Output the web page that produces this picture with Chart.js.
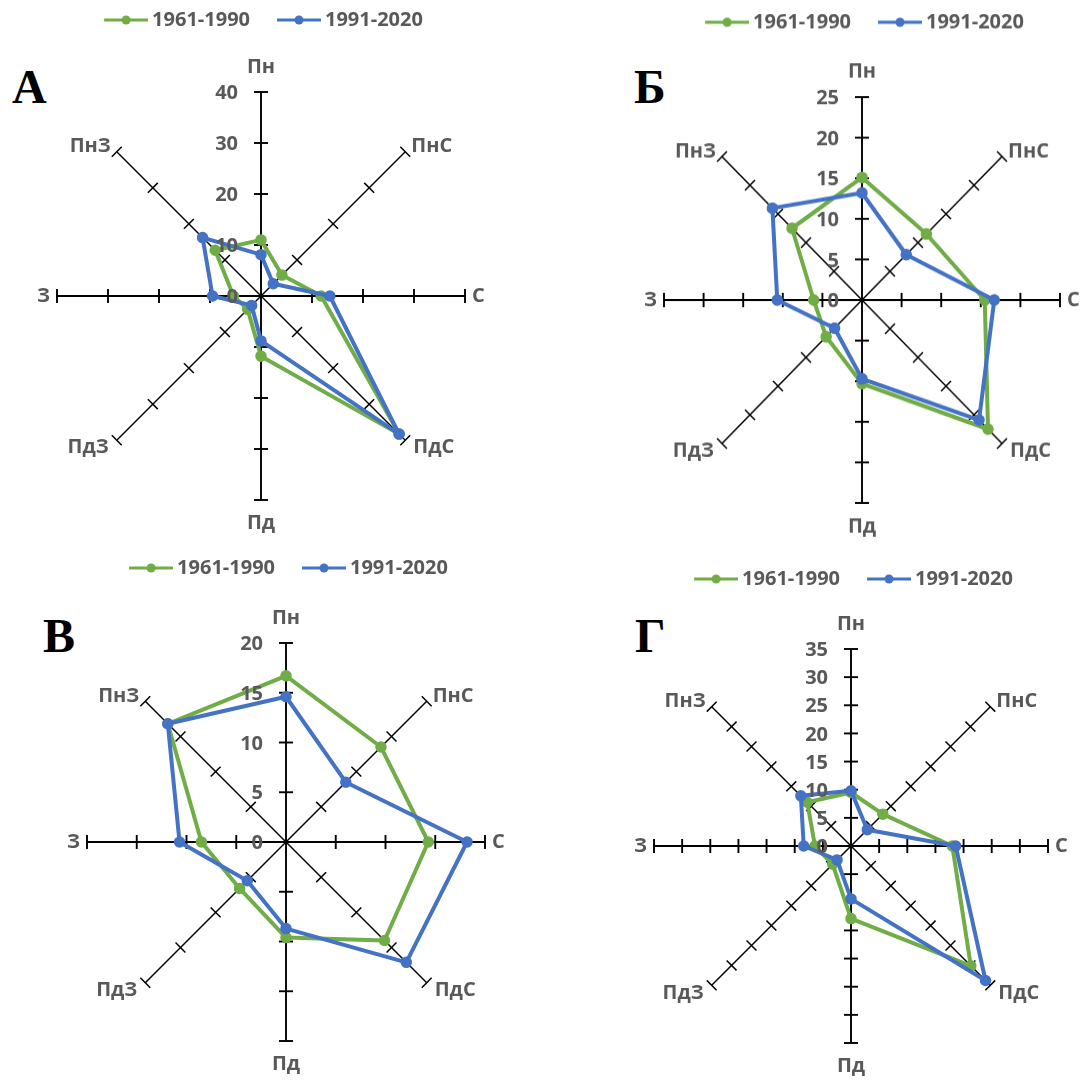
<!DOCTYPE html>
<html lang="uk">
<head>
<meta charset="utf-8">
<script src="https://cdn.jsdelivr.net/npm/chart.js@4.4.1/dist/chart.umd.min.js"></script>
<style>
  html, body { margin: 0; padding: 0; background: #fff; }
  #page { position: relative; width: 1081px; height: 1080px; overflow: hidden; background: #fff; }
  #page canvas { position: absolute; }
  .letter { position: absolute; font-family: "Liberation Serif", "DejaVu Serif", serif; font-weight: bold; font-size: 48px; line-height: 48px; color: #000; }
</style>
</head>
<body>
<div id="page">
  <div class="letter" style="left:12px;top:63px">А</div>
  <div class="letter" style="left:634px;top:63px">Б</div>
  <div class="letter" style="left:43px;top:612px">В</div>
  <div class="letter" style="left:635px;top:612px">Г</div>
</div>
<script>
// Рози вітрів: повторюваність напрямків, %
const directions = ['Пн', 'ПнС', 'С', 'ПдС', 'Пд', 'ПдЗ', 'З', 'ПнЗ'];
const periods = ['1961-1990', '1991-2020'];

const roseA_1961 = [11.0, 5.8, 11.8, 38.3, 11.8, 3.7, 5.4, 12.7];
const roseA_1991 = [8.1, 3.4, 13.5, 38.3, 8.8, 2.6, 9.5, 16.2];
const roseB_1961 = [15.1, 11.5, 15.5, 22.5, 10.3, 6.4, 6.1, 12.5];
const roseB_1991 = [13.2, 7.9, 16.7, 20.9, 9.7, 4.9, 10.7, 16.0];
const roseV_1961 = [16.7, 13.5, 14.3, 14.0, 9.6, 6.6, 8.5, 16.8];
const roseV_1991 = [14.6, 8.5, 18.2, 17.1, 8.7, 5.5, 10.7, 16.8];
const roseG_1961 = [9.5, 8.0, 18.0, 30.1, 12.9, 4.6, 6.4, 11.0];
const roseG_1991 = [9.8, 4.1, 18.6, 33.8, 9.4, 3.5, 8.4, 12.6];

const axisMax = [40, 25, 20, 35];
const axisStep = [10, 5, 5, 5];

// розміщення панелей на сторінці (центр, радіус, рядок легенди)
const layout = [
  { cx: 261, cy: 296, r: 204, legendY: 20, sy: 1 },
  { cx: 862, cy: 300, r: 198, legendY: 29, sy: 1.025 },
  { cx: 286, cy: 842, r: 199, legendY: 568, sy: 1 },
  { cx: 851, cy: 846, r: 197, legendY: 579, sy: 1 },
];
const series = [
  [roseA_1961, roseA_1991],
  [roseB_1961, roseB_1991],
  [roseV_1961, roseV_1991],
  [roseG_1961, roseG_1991],
];

const GREEN = '#70AD47';
const BLUE = '#4472C4';
const GREY = '#595959';
const FONT = '"Open Sans", "Noto Sans", sans-serif';
const PADX = 50;
const LEGEND_PAD = 22;
const SYM_BOX = 43;
const LEGEND_H = 20 + LEGEND_PAD + 10;

// значок легенди: лінія з маркером
function legendSymbol(color) {
  const c = document.createElement('canvas');
  c.width = SYM_BOX + 12;
  c.height = 12;
  const g = c.getContext('2d');
  g.strokeStyle = color;
  g.lineWidth = 3;
  g.beginPath();
  g.moveTo(c.width - 44, 6);
  g.lineTo(c.width, 6);
  g.stroke();
  g.fillStyle = color;
  g.beginPath();
  g.arc(c.width - 22, 6, 4.5, 0, Math.PI * 2);
  g.fill();
  return c;
}
const symbols = [legendSymbol(GREEN), legendSymbol(BLUE)];

// осі з рисками, підписи напрямків і шкали як в Excel
const axisDecor = {
  id: 'axisDecor',
  beforeDatasetsDraw(chart) {
    const s = chart.scales.r;
    const ctx = chart.ctx;
    ctx.save();
    ctx.strokeStyle = '#000';
    chart.data.labels.forEach((lab, i) => {
      const a = s.getIndexAngle(i) - Math.PI / 2;
      const px = -Math.sin(a), py = Math.cos(a);
      ctx.lineWidth = i % 2 ? 1.5 : 1.9;
      s.ticks.forEach(t => {
        if (t.value <= s.min) return;
        const p = s.getPointPositionForValue(i, t.value);
        ctx.beginPath();
        ctx.moveTo(p.x - px * 7, p.y - py * 7);
        ctx.lineTo(p.x + px * 7, p.y + py * 7);
        ctx.stroke();
      });
    });

    ctx.fillStyle = GREY;
    ctx.font = 'bold 20px ' + FONT;
    ctx.textBaseline = 'middle';
    chart.data.labels.forEach((lab, i) => {
      const a = s.getIndexAngle(i) - Math.PI / 2;
      const c = Math.cos(a), sn = Math.sin(a);
      const end = s.getPointPositionForValue(i, s.max);
      let x = end.x, y = end.y;
      if (Math.abs(c) < 0.1) {
        ctx.textAlign = 'center';
        y += sn < 0 ? -24.5 : 23;
      } else if (Math.abs(sn) < 0.1) {
        ctx.textAlign = c > 0 ? 'left' : 'right';
        x += c > 0 ? 7 : -7;
      } else if (sn < 0) {
        ctx.textAlign = c > 0 ? 'left' : 'right';
        x += c > 0 ? 6 : -6;
        y -= 5;
      } else {
        ctx.textAlign = c > 0 ? 'left' : 'right';
        x += c > 0 ? 8 : -8;
        y += 7.5;
      }
      ctx.fillText(lab, x, y);
    });
    ctx.restore();
  },
  afterDatasetsDraw(chart) {
    const s = chart.scales.r;
    const ctx = chart.ctx;
    ctx.save();
    ctx.fillStyle = GREY;
    ctx.font = 'bold 20px ' + FONT;
    ctx.textAlign = 'right';
    ctx.textBaseline = 'middle';
    s.ticks.forEach(t => {
      const p = s.getPointPositionForValue(0, t.value);
      ctx.fillText(t.label, p.x - 23, p.y + 1.5);
    });
    ctx.restore();
  }
};

function lineSet(label, data, color, order) {
  return {
    label, data, order,
    borderColor: color, backgroundColor: color,
    pointBackgroundColor: color, pointBorderColor: color,
    borderWidth: 4, pointRadius: 5, pointBorderWidth: 1.5,
    borderJoinStyle: 'round', fill: false,
  };
}

const page = document.getElementById('page');
layout.forEach((L, k) => {
  const top = L.legendY - 32;
  const chartTop = top + LEGEND_H;
  const h = 2 * (L.cy - chartTop);
  const cv = document.createElement('canvas');
  cv.width = 2 * L.r + 2 * PADX;
  cv.height = LEGEND_H + h;
  cv.style.left = (L.cx - L.r - PADX) + 'px';
  cv.style.top = top + 'px';
  if (L.sy !== 1) {
    cv.style.transformOrigin = (L.r + PADX) + 'px ' + (L.cy - top) + 'px';
    cv.style.transform = 'scaleY(' + L.sy + ')';
  }
  page.appendChild(cv);

  new Chart(cv, {
    type: 'radar',
    data: {
      labels: directions,
      datasets: [
        lineSet(periods[0], series[k][0], GREEN, 1),
        lineSet(periods[1], series[k][1], BLUE, 0),
      ]
    },
    options: {
      responsive: false,
      animation: false,
      devicePixelRatio: 1,
      layout: { padding: { left: PADX, right: PADX, top: 0, bottom: 0 } },
      plugins: {
        tooltip: { enabled: false },
        legend: {
          position: 'top',
          labels: {
            usePointStyle: true,
            pointStyleWidth: SYM_BOX,
            padding: LEGEND_PAD,
            color: GREY,
            font: { family: FONT, weight: 'bold', size: 20 },
            generateLabels(chart) {
              const items = Chart.defaults.plugins.legend.labels.generateLabels(chart);
              items.sort((a, b) => a.datasetIndex - b.datasetIndex);
              items.forEach(it => { it.pointStyle = symbols[it.datasetIndex]; });
              return items;
            }
          }
        }
      },
      scales: {
        r: {
          min: 0,
          max: axisMax[k],
          ticks: { display: false, stepSize: axisStep[k] },
          grid: { display: false },
          angleLines: { display: true, color: '#000', lineWidth: ctx => ctx.index % 2 ? 1.5 : 1.9 },
          pointLabels: { display: false }
        }
      }
    },
    plugins: [axisDecor]
  });
});
</script>
</body>
</html>
